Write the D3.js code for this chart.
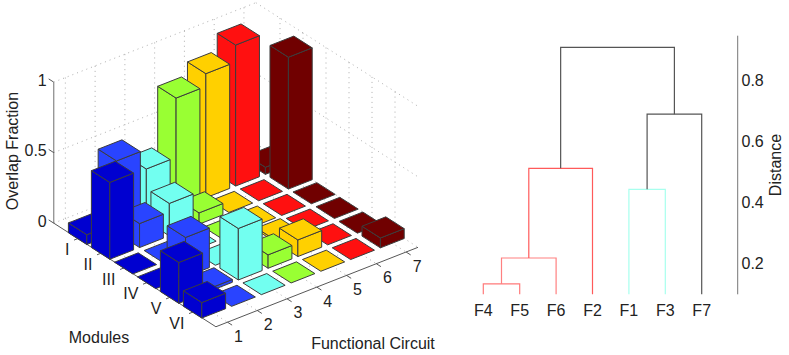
<!DOCTYPE html>
<html>
<head>
<meta charset="utf-8">
<script src="https://d3js.org/d3.v7.min.js"></script>
<style>
  body { margin: 0; background: #fff; }
  text { font-family: "Liberation Sans", Arial, sans-serif; font-size: 16px; fill: #222; }
</style>
</head>
<body>
<div id="chart"></div>
<script>
var svgWidth = 789;
var svgHeight = 355;

// bar chart data, one array per module, one value per functional circuit
var circuits = [1, 2, 3, 4, 5, 6, 7];
var modules = ["I", "II", "III", "IV", "V", "VI"];
var moduleI = [0.07, 0.51, 0.37, 0.79, 0.88, 1.0, 0.05];
var moduleII = [0.545, 0.17, 0.23, 0.08, 0, 0, 0.935];
var moduleIII = [0, 0, 0, 0, 0, 0, 0];
var moduleIV = [0, 0.28, 0, 0, 0.015, 0, 0];
var moduleV = [0.29, 0.02, 0.365, 0.095, 0.118, 0, 0];
var moduleVI = [0.11, 0, 0, 0, 0, 0, 0.07];
var overlapRows = [moduleI, moduleII, moduleIII, moduleIV, moduleV, moduleVI];
var zTicks = [0, 0.5, 1];
var circuitColors = ["#0000d0", "#2944ff", "#72fff0", "#99ff33", "#ffd000", "#ff1010", "#700000"];

// dendrogram data
var leaves = ["F4", "F5", "F6", "F2", "F1", "F3", "F7"];
var mergeLeft = ["F4", "n1", "n2", "F1", "n4", "n3"];
var mergeRight = ["F5", "F6", "F2", "F3", "F7", "n5"];
var mergeHeight = [0.1326, 0.2174, 0.511, 0.442, 0.688, 0.907];
var mergeColor = ["#ff7a7a", "#ff8080", "#ff5a5a", "#a8ffee", "#555555", "#555555"];
var distanceTicks = [0.2, 0.4, 0.6, 0.8];

var svg = d3.select("#chart").append("svg").attr("width", svgWidth).attr("height", svgHeight);

// -----------------------
// 3d bars: each data axis maps to a screen offset [dx, dy]

var xLimits = [0.61, 7.4];
var yLimits = [-0.05, 7];
var origin = [89.5, 234];

var xOffset = d3.scaleLinear().domain([1, 7]).range([[0, 0], [178.6, -70.2]]);
var yOffset = d3.scaleLinear().domain([1, 6]).range([[0, 0], [115, 73.5]]);
var zOffset = d3.scaleLinear().domain([0, 1]).range([[0, 0], [0, -141]]);

function project(x, y, z) {
  var a = xOffset(x), b = yOffset(y), c = zOffset(z);
  return [origin[0] + a[0] + b[0] + c[0], origin[1] + a[1] + b[1] + c[1]];
}

var polygon = d3.line();
var barGroup = svg.append("g");

// dotted grid on the two back walls and the floor
function gridLine(p, q) {
  barGroup.append("path")
    .attr("d", polygon([p, q]))
    .attr("fill", "none")
    .attr("stroke", "#999")
    .attr("stroke-width", 0.8)
    .attr("stroke-dasharray", "1 4");
}

zTicks.forEach(function(z) {
  gridLine(project(xLimits[0], yLimits[0], z), project(xLimits[1], yLimits[0], z));
  gridLine(project(xLimits[1], yLimits[0], z), project(xLimits[1], yLimits[1], z));
});
circuits.forEach(function(x) {
  gridLine(project(x, yLimits[0], 0), project(x, yLimits[0], 1));
  gridLine(project(x, yLimits[0], 0), project(x, yLimits[1], 0));
});
modules.forEach(function(m, i) {
  gridLine(project(xLimits[1], i + 1, 0), project(xLimits[1], i + 1, 1));
  gridLine(project(xLimits[0], i + 1, 0), project(xLimits[1], i + 1, 0));
});

// solid axes
function axisLine(p, q) {
  barGroup.append("path")
    .attr("d", polygon([p, q]))
    .attr("fill", "none")
    .attr("stroke", "#444")
    .attr("stroke-width", 0.9);
}

axisLine(project(xLimits[0], yLimits[0], 0), project(xLimits[0], yLimits[1], 0));
axisLine(project(xLimits[0], yLimits[1], 0), project(xLimits[1], yLimits[1], 0));
barGroup.append("path")
  .attr("d", polygon([project(xLimits[0], yLimits[0], 0), project(xLimits[0], yLimits[0], 1)]))
  .attr("stroke", "#888")
  .attr("stroke-width", 1.2);

circuits.forEach(function(x) {
  axisLine(project(x, yLimits[1], 0), project(x, yLimits[1] + 0.2, 0));
});
modules.forEach(function(m, i) {
  axisLine(project(xLimits[0], i + 1, 0), project(xLimits[0] - 0.13, i + 1, 0));
});
zTicks.forEach(function(z) {
  axisLine(project(xLimits[0], yLimits[0], z), project(xLimits[0], yLimits[0] - 0.22, z));
});

// far bars first: low module index, high circuit number
var barWidth = 0.4;
var bars = [];
overlapRows.forEach(function(row, r) {
  d3.range(row.length - 1, -1, -1).forEach(function(c) {
    bars.push({ x: circuits[c], y: r + 1, h: row[c], color: circuitColors[c] });
  });
});

function faces(d) {
  var x0 = d.x - barWidth, x1 = d.x + barWidth;
  var y0 = d.y - barWidth, y1 = d.y + barWidth;
  var list = [];
  if (d.h > 0) {
    list.push([project(x0, y0, 0), project(x0, y1, 0), project(x0, y1, d.h), project(x0, y0, d.h)]);
    list.push([project(x0, y1, 0), project(x1, y1, 0), project(x1, y1, d.h), project(x0, y1, d.h)]);
  }
  list.push([project(x0, y0, d.h), project(x1, y0, d.h), project(x1, y1, d.h), project(x0, y1, d.h)]);
  return list;
}

barGroup.selectAll(".bar")
  .data(bars)
  .enter()
  .append("g")
  .attr("class", "bar")
  .selectAll("path")
  .data(d => faces(d).map(f => ({ pts: f, color: d.color })))
  .enter()
  .append("path")
  .attr("d", d => polygon(d.pts) + "Z")
  .attr("fill", d => d.color)
  .attr("stroke", "#3c3c3c")
  .attr("stroke-width", 1)
  .attr("stroke-linejoin", "round");

// tick labels
circuits.forEach(function(x) {
  var p = project(x, yLimits[1], 0);
  svg.append("text")
    .attr("x", p[0] + 11)
    .attr("y", p[1] + 14)
    .attr("dy", "0.35em")
    .attr("text-anchor", "middle")
    .text(x);
});
modules.forEach(function(m, i) {
  var p = project(xLimits[0], i + 1, 0);
  svg.append("text")
    .attr("x", p[0] - 8.5)
    .attr("y", p[1] + 11)
    .attr("dy", "0.35em")
    .attr("text-anchor", "end")
    .text(m);
});
zTicks.forEach(function(z) {
  var p = project(xLimits[0], yLimits[0], z);
  svg.append("text")
    .attr("x", p[0] - 7)
    .attr("y", p[1] - 2)
    .attr("dy", "0.35em")
    .attr("text-anchor", "end")
    .text(z);
});

svg.append("text")
  .attr("transform", "translate(12, 151) rotate(-90)")
  .attr("dy", "0.35em")
  .attr("text-anchor", "middle")
  .text("Overlap Fraction");
svg.append("text")
  .attr("x", 99)
  .attr("y", 337)
  .attr("dy", "0.35em")
  .attr("text-anchor", "middle")
  .text("Modules");
svg.append("text")
  .attr("x", 373)
  .attr("y", 343)
  .attr("dy", "0.35em")
  .attr("text-anchor", "middle")
  .text("Functional Circuit");

// -----------------------
// dendrogram

var leafScale = d3.scalePoint().domain(leaves).range([483.3, 701.7]);
var distanceScale = d3.scaleLinear().domain([0.2, 0.8]).range([263.3, 80]);
var distanceBottom = 0.0985;
var distanceTop = 0.945;

var nodes = {};
leaves.forEach(function(name) {
  nodes[name] = { x: leafScale(name), h: distanceBottom };
});

var dendro = svg.append("g");
mergeHeight.forEach(function(h, i) {
  var a = nodes[mergeLeft[i]], b = nodes[mergeRight[i]];
  dendro.append("path")
    .attr("d", polygon([
      [a.x, distanceScale(a.h)],
      [a.x, distanceScale(h)],
      [b.x, distanceScale(h)],
      [b.x, distanceScale(b.h)]
    ]))
    .attr("fill", "none")
    .attr("stroke", mergeColor[i])
    .attr("stroke-width", 1.2);
  nodes["n" + (i + 1)] = { x: (a.x + b.x) / 2, h: h };
});

leaves.forEach(function(name) {
  svg.append("text")
    .attr("x", leafScale(name))
    .attr("y", 310)
    .attr("dy", "0.35em")
    .attr("text-anchor", "middle")
    .text(name);
});

// distance axis on the right
svg.append("path")
  .attr("d", polygon([[737.7, distanceScale(distanceTop)], [737.7, distanceScale(distanceBottom)]]))
  .attr("stroke", "#777")
  .attr("stroke-width", 1);

distanceTicks.forEach(function(t) {
  svg.append("text")
    .attr("x", 741.5)
    .attr("y", distanceScale(t))
    .attr("dy", "0.35em")
    .text(t);
});

svg.append("text")
  .attr("transform", "translate(775, 165) rotate(-90)")
  .attr("dy", "0.35em")
  .attr("text-anchor", "middle")
  .text("Distance");
</script>
</body>
</html>
